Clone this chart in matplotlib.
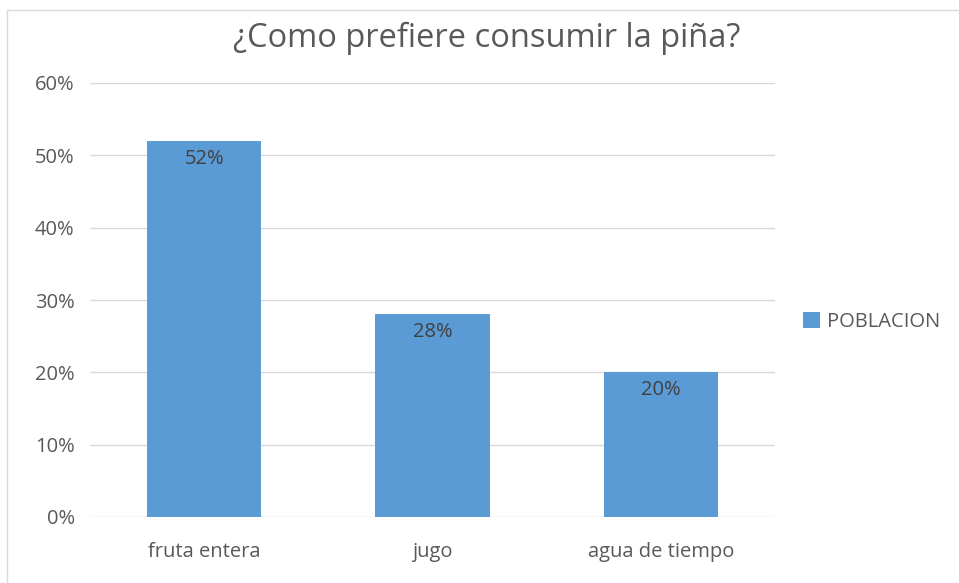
import matplotlib
matplotlib.use("Agg")
import matplotlib.pyplot as plt
from matplotlib.patches import Rectangle
from matplotlib.ticker import PercentFormatter

# Data
categories = ["fruta entera", "jugo", "agua de tiempo"]
poblacion = [0.52, 0.28, 0.20]
y_ticks = [0, 0.1, 0.2, 0.3, 0.4, 0.5, 0.6]

bar_color = "#5B9BD5"
text_color = "#595959"
grid_color = "#D9D9D9"

plt.rcParams["font.family"] = ["Open Sans", "DejaVu Sans"]

fig = plt.figure(figsize=(9.59, 5.83), dpi=100)
fig.patches.append(Rectangle((7 / 959, -0.1), 1.1, 1 - 10 / 583 + 0.1,
                             transform=fig.transFigure, fill=False,
                             edgecolor="#D9D9D9", linewidth=1))

ax = fig.add_axes([90 / 959, 66 / 583, 685 / 959, 434 / 583])
x = range(len(categories))
bars = ax.bar(x, poblacion, width=0.5, color=bar_color, label="POBLACION", zorder=3)

for b, v in zip(bars, poblacion):
    ax.text(b.get_x() + b.get_width() / 2, v - 0.011, f"{v:.0%}",
            ha="center", va="top", fontsize=14.5, color="#404040", zorder=4)

ax.set_xlim(-0.5, len(categories) - 0.5)
ax.set_ylim(0, 0.6)
ax.set_yticks(y_ticks)
ax.yaxis.set_major_formatter(PercentFormatter(1.0, decimals=0))
ax.set_xticks(list(x))
ax.set_xticklabels(categories)
ax.tick_params(axis="both", length=0, labelsize=14.5, colors=text_color)
ax.tick_params(axis="y", pad=11)
ax.tick_params(axis="x", pad=18)
ax.grid(axis="y", color=grid_color, linewidth=1, zorder=0)
for s in ax.spines.values():
    s.set_visible(False)

fig.text(487 / 959, 1 - 38 / 583, "¿Como prefiere consumir la piña?",
         ha="center", va="center", fontsize=23.5, color=text_color)

fig.legend(loc="center left", bbox_to_anchor=(785 / 959, 1 - 322 / 583),
           frameon=False, fontsize=14.5, handlelength=0.85, handleheight=0.85,
           handletextpad=0.35, labelcolor=text_color)

fig.savefig("out.png", dpi=100)
